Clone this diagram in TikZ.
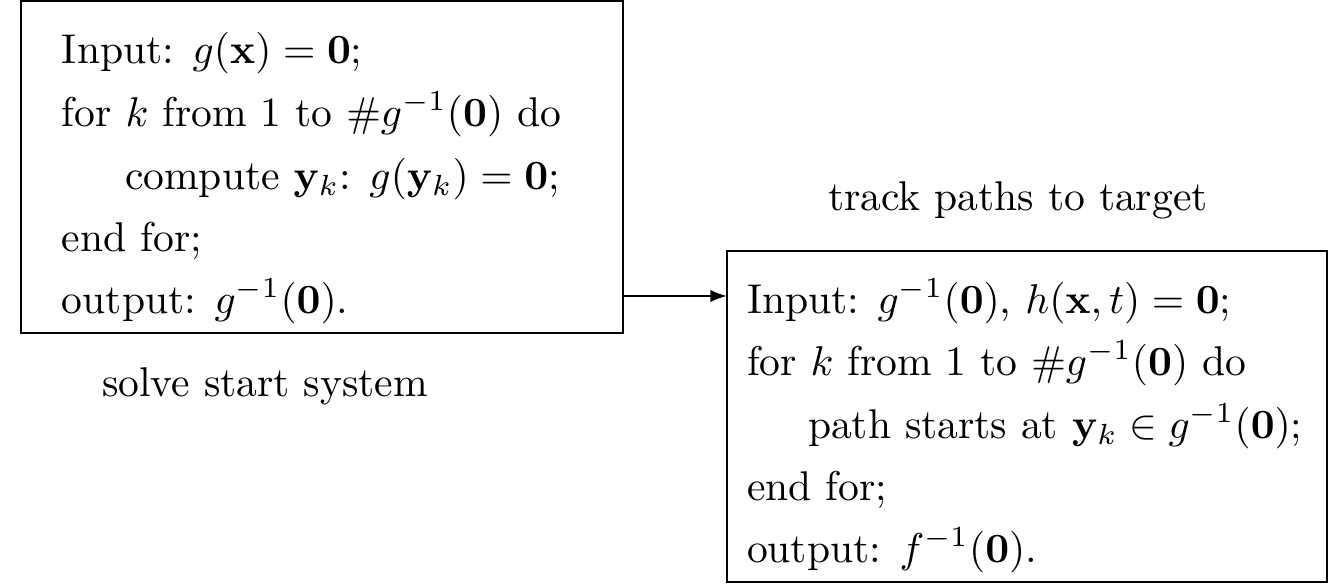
\documentclass[tikz,border=0pt]{standalone}
\usepackage{amsmath,amssymb}
\usetikzlibrary{arrows.meta}
\begin{document}
\begin{tikzpicture}[x=0.2404pt,y=-0.2404pt,
  line/.style={anchor=base west,inner sep=0pt,outer sep=0pt},
  lbl/.style={anchor=base,inner sep=0pt,outer sep=0pt},
  frame/.style={draw,line width=0.5pt}]
\useasboundingbox (0,0) rectangle (1329,584);
% box 1
\draw[frame] (21,1) rectangle (623,333);
\coordinate (b1r) at (623,296);
\node[line] (a1) at (62,64) {Input: $g(\mathbf{x})=\mathbf{0}$;};
\node[line] (a2) at (62,126) {for $k$ from 1 to $\#g^{-1}(\mathbf{0})$ do};
\node[line] (a3) at (125,189) {compute $\mathbf{y}_k$: $g(\mathbf{y}_k)=\mathbf{0}$;};
\node[line] (a4) at (62,251) {end for;};
\node[line] (a5) at (62,313) {output: $g^{-1}(\mathbf{0})$.};
\node[lbl] (l1) at (265,396) {solve start system};
% box 2
\draw[frame] (727,251) rectangle (1327,582);
\coordinate (b2l) at (727,296);
\node[line] (c1) at (747,313) {Input: $g^{-1}(\mathbf{0})$, $h(\mathbf{x},t)=\mathbf{0}$;};
\node[line] (c2) at (747,375) {for $k$ from 1 to $\#g^{-1}(\mathbf{0})$ do};
\node[line] (c3) at (808,438) {path starts at $\mathbf{y}_k\in g^{-1}(\mathbf{0})$;};
\node[line] (c4) at (747,500) {end for;};
\node[line] (c5) at (747,562) {output: $f^{-1}(\mathbf{0})$.};
\node[lbl] (l2) at (1018,210) {track paths to target};
\draw[line width=0.5pt,-{Latex[length=4pt,width=3pt]}] (b1r) -- (b2l);
\end{tikzpicture}
\end{document}
